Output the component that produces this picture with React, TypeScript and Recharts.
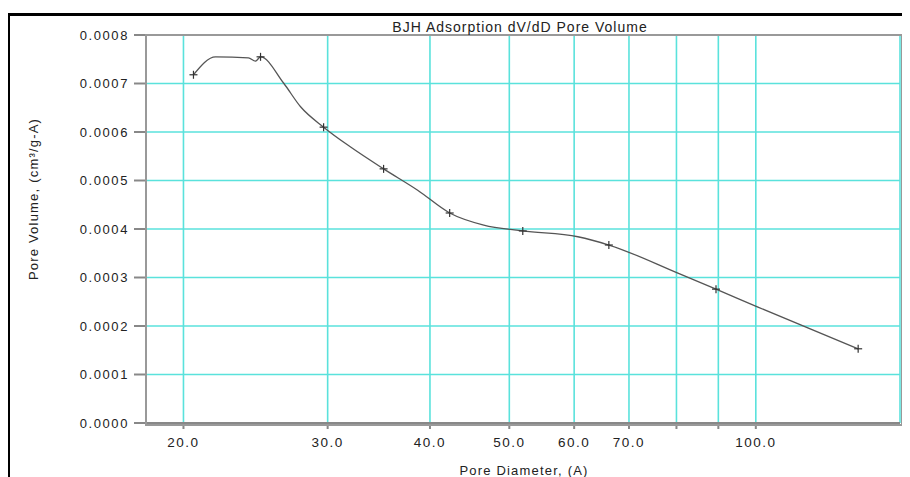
import React from 'react';
import { ComposedChart, Line, Scatter, XAxis, YAxis, CartesianGrid } from 'recharts';

// pore diameter (A) and dV/dD pore volume
const pointDiameters = [20.57, 24.84, 29.66, 35.11, 42.28, 51.93, 66.15, 89.41, 133.35];
const pointVolumes = [0.000718, 0.000755, 0.00061, 0.000524, 0.000433, 0.000396, 0.000367, 0.000276, 0.000153];

// vertices of the drawn curve (it bends between the measured points)
const curveDiameters = [20.57, 21.89, 24.01, 24.49, 24.84, 26.5, 27.8, 29.66, 32.0, 35.11, 38.64, 42.28, 46.53, 51.93, 60.63, 66.15, 80.33, 89.41, 100.6, 133.35];
const curveVolumes = [0.000718, 0.000755, 0.000753, 0.000746, 0.000755, 0.000701, 0.000652, 0.00061, 0.000569, 0.000524, 0.00048, 0.000433, 0.000408, 0.000396, 0.000384, 0.000367, 0.000309, 0.000276, 0.000239, 0.000153];

const xTicks = [20, 30, 40, 50, 60, 70, 80, 90, 100];
const xLabelled = [20, 30, 40, 50, 60, 70, 100];
const yTicks = [0, 0.0001, 0.0002, 0.0003, 0.0004, 0.0005, 0.0006, 0.0007, 0.0008];

const pointData = pointDiameters.map((d, i) => ({ d, v: pointVolumes[i] }));
const curveData = curveDiameters.map((d, i) => ({ d, v: curveVolumes[i] }));

const font = '"Liberation Sans", Arial, sans-serif';

const PlusMark = (props: any) => {
  const { cx, cy } = props;
  if (cx == null || cy == null) return <g />;
  return (
    <g stroke="#333" strokeWidth={1.2}>
      <line x1={cx - 4} y1={cy} x2={cx + 4} y2={cy} />
      <line x1={cx} y1={cy - 4} x2={cx} y2={cy + 4} />
    </g>
  );
};

const App = () => {
  return (
    <div style={{ position: 'relative', width: 902, height: 469 }}>
      <div style={{ position: 'absolute', left: -8, top: -8, width: 910, height: 477, background: '#fff', fontFamily: font }}>
        {/* outer black frame */}
        <div style={{ position: 'absolute', left: 8, top: 13, width: 902, height: 3, background: '#000' }} />
        <div style={{ position: 'absolute', left: 7, top: 13, width: 3, height: 464, background: '#000' }} />

        <div style={{ position: 'absolute', left: 0, top: 0 }}>
          <ComposedChart width={910} height={477} margin={{ top: 35, right: 10, bottom: 24, left: 0 }}>
            <CartesianGrid stroke="#5ae2dc" strokeWidth={1.6} />
            <XAxis
              dataKey="d"
              type="number"
              scale="log"
              domain={[18, 150]}
              ticks={xTicks}
              allowDataOverflow
              height={30}
              tickSize={6}
              tickMargin={8}
              stroke="#888"
              strokeWidth={2}
              tick={{ fill: '#222', fontSize: 13.5, letterSpacing: 1.5, fontFamily: font }}
              tickFormatter={(v: number) => (xLabelled.includes(v) ? v.toFixed(1) : '')}
            />
            <YAxis
              dataKey="v"
              type="number"
              domain={[0, 0.0008]}
              ticks={yTicks}
              width={146}
              tickSize={12}
              tickMargin={5}
              stroke="#888"
              strokeWidth={2}
              tick={{ fill: '#222', fontSize: 13, letterSpacing: 1.6, fontFamily: font }}
              tickFormatter={(v: number) => v.toFixed(4)}
            />
            <Line
              data={curveData}
              dataKey="v"
              type="monotone"
              stroke="#555"
              strokeWidth={1.3}
              dot={false}
              activeDot={false}
              isAnimationActive={false}
            />
            <Scatter data={pointData} dataKey="v" shape={PlusMark} isAnimationActive={false} />
          </ComposedChart>
        </div>

        {/* plot frame */}
        <div style={{ position: 'absolute', left: 145, top: 34, width: 754, height: 388, border: '2px solid #999', pointerEvents: 'none' }} />

        <div style={{ position: 'absolute', left: 320, top: 18, width: 400, textAlign: 'center', fontSize: 14, letterSpacing: 1, color: '#222', lineHeight: '18px' }}>
          BJH Adsorption dV/dD Pore Volume
        </div>
        <div style={{ position: 'absolute', left: 374, top: 462, width: 300, textAlign: 'center', fontSize: 13, letterSpacing: 1.2, color: '#222', lineHeight: '18px' }}>
          Pore Diameter, (A)
        </div>
        <div
          style={{
            position: 'absolute',
            left: 34 - 150,
            top: 199 - 9,
            width: 300,
            height: 18,
            lineHeight: '18px',
            textAlign: 'center',
            fontSize: 13,
            letterSpacing: 1.2,
            color: '#222',
            transform: 'rotate(-90deg)',
          }}
        >
          Pore Volume, (cm³/g-A)
        </div>
      </div>
    </div>
  );
};

export default App;
